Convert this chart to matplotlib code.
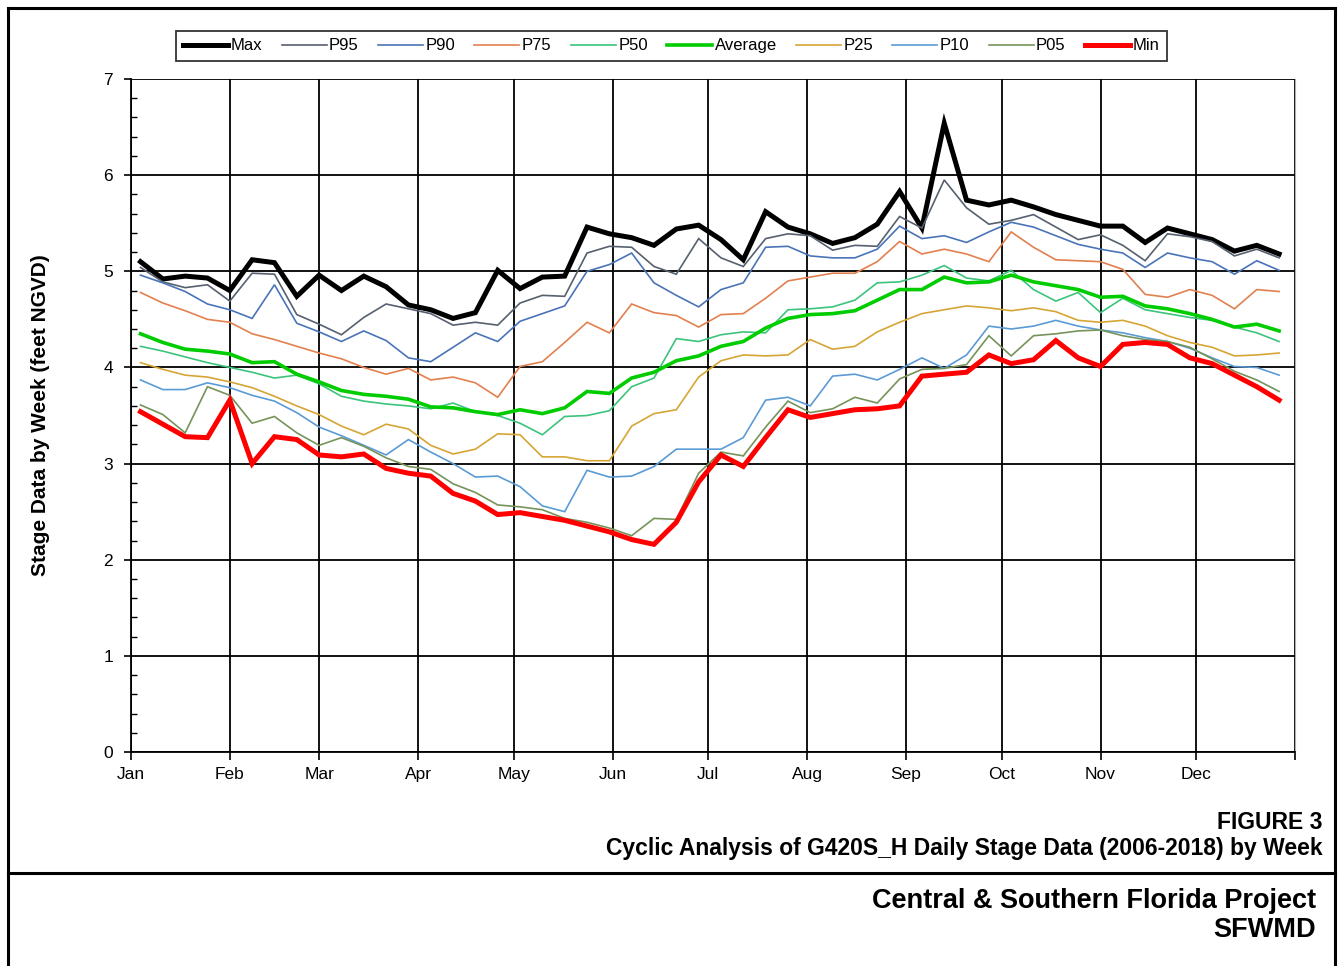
import numpy as np
import matplotlib
matplotlib.use('Agg')
import matplotlib.pyplot as plt
from matplotlib.lines import Line2D

plt.rcParams['font.family'] = ['Liberation Sans', 'DejaVu Sans']

# week number 1..52, plotted at day of year of the week middle
weeks = np.arange(1, 53)
month_starts = [0, 31, 59, 90, 120, 151, 181, 212, 243, 273, 304, 334, 365]
month_labels = ['Jan', 'Feb', 'Mar', 'Apr', 'May', 'Jun', 'Jul', 'Aug', 'Sep', 'Oct', 'Nov', 'Dec', '']

s_max = [5.10, 4.92, 4.95, 4.93, 4.80, 5.12, 5.09, 4.74, 4.96, 4.80, 4.95, 4.84, 4.65,
         4.60, 4.51, 4.57, 5.01, 4.82, 4.94, 4.95, 5.46, 5.39, 5.35, 5.27, 5.44, 5.48,
         5.33, 5.12, 5.62, 5.46, 5.39, 5.29, 5.35, 5.49, 5.83, 5.45, 6.54, 5.74, 5.69,
         5.74, 5.67, 5.59, 5.53, 5.47, 5.47, 5.30, 5.45, 5.39, 5.33, 5.21, 5.27, 5.18]
p95 = [5.04, 4.89, 4.83, 4.86, 4.69, 4.98, 4.97, 4.55, 4.45, 4.34, 4.52, 4.66, 4.61,
       4.56, 4.44, 4.47, 4.44, 4.67, 4.75, 4.74, 5.19, 5.26, 5.25, 5.05, 4.97, 5.34,
       5.14, 5.05, 5.34, 5.39, 5.37, 5.22, 5.27, 5.26, 5.57, 5.45, 5.95, 5.66, 5.49,
       5.53, 5.59, 5.46, 5.33, 5.38, 5.27, 5.11, 5.39, 5.36, 5.31, 5.16, 5.23, 5.14]
p90 = [4.96, 4.88, 4.79, 4.66, 4.60, 4.51, 4.86, 4.46, 4.37, 4.27, 4.38, 4.28, 4.10,
       4.06, 4.21, 4.36, 4.27, 4.48, 4.56, 4.64, 5.00, 5.07, 5.19, 4.88, 4.75, 4.63,
       4.81, 4.88, 5.25, 5.26, 5.16, 5.14, 5.14, 5.23, 5.47, 5.34, 5.37, 5.30, 5.41,
       5.51, 5.46, 5.37, 5.28, 5.23, 5.19, 5.04, 5.19, 5.14, 5.10, 4.97, 5.11, 5.01]
p75 = [4.78, 4.67, 4.59, 4.50, 4.47, 4.35, 4.29, 4.22, 4.15, 4.09, 4.00, 3.93, 3.99,
       3.87, 3.90, 3.84, 3.69, 4.01, 4.06, 4.26, 4.47, 4.36, 4.66, 4.57, 4.54, 4.42,
       4.55, 4.56, 4.72, 4.90, 4.94, 4.98, 4.98, 5.10, 5.31, 5.18, 5.23, 5.18, 5.10,
       5.41, 5.25, 5.12, 5.11, 5.10, 5.02, 4.76, 4.73, 4.81, 4.75, 4.61, 4.81, 4.79]
p50 = [4.22, 4.17, 4.11, 4.05, 4.00, 3.95, 3.89, 3.92, 3.83, 3.70, 3.65, 3.62, 3.60,
       3.57, 3.63, 3.54, 3.50, 3.42, 3.30, 3.49, 3.50, 3.55, 3.80, 3.89, 4.30, 4.27,
       4.34, 4.37, 4.36, 4.60, 4.61, 4.63, 4.70, 4.88, 4.89, 4.96, 5.06, 4.93, 4.90,
       5.01, 4.81, 4.69, 4.78, 4.57, 4.72, 4.60, 4.56, 4.52, 4.49, 4.42, 4.36, 4.27]
average = [4.35, 4.26, 4.19, 4.17, 4.14, 4.05, 4.06, 3.93, 3.85, 3.76, 3.72, 3.70, 3.67,
           3.59, 3.58, 3.54, 3.51, 3.56, 3.52, 3.58, 3.75, 3.73, 3.89, 3.95, 4.07, 4.12,
           4.22, 4.27, 4.41, 4.51, 4.55, 4.56, 4.59, 4.70, 4.81, 4.81, 4.94, 4.88, 4.89,
           4.96, 4.89, 4.85, 4.81, 4.73, 4.74, 4.64, 4.61, 4.56, 4.50, 4.42, 4.45, 4.38]
p25 = [4.05, 3.98, 3.92, 3.90, 3.85, 3.79, 3.70, 3.60, 3.51, 3.39, 3.30, 3.41, 3.36,
       3.19, 3.10, 3.15, 3.31, 3.30, 3.07, 3.07, 3.03, 3.03, 3.39, 3.52, 3.56, 3.90,
       4.07, 4.13, 4.12, 4.13, 4.29, 4.19, 4.22, 4.37, 4.47, 4.56, 4.60, 4.64, 4.62,
       4.59, 4.62, 4.58, 4.49, 4.47, 4.49, 4.43, 4.33, 4.26, 4.21, 4.12, 4.13, 4.15]
p10 = [3.87, 3.77, 3.77, 3.84, 3.79, 3.71, 3.65, 3.53, 3.38, 3.29, 3.19, 3.09, 3.25,
       3.12, 3.00, 2.86, 2.87, 2.76, 2.56, 2.50, 2.93, 2.86, 2.87, 2.97, 3.15, 3.15,
       3.15, 3.27, 3.66, 3.69, 3.60, 3.91, 3.93, 3.87, 3.98, 4.10, 3.99, 4.13, 4.43,
       4.40, 4.43, 4.49, 4.43, 4.39, 4.36, 4.31, 4.27, 4.20, 4.10, 4.01, 4.00, 3.92]
p05 = [3.61, 3.51, 3.32, 3.80, 3.71, 3.42, 3.49, 3.32, 3.19, 3.27, 3.18, 3.06, 2.97,
       2.94, 2.79, 2.70, 2.57, 2.55, 2.52, 2.43, 2.39, 2.33, 2.25, 2.43, 2.42, 2.90,
       3.12, 3.08, 3.38, 3.65, 3.53, 3.57, 3.69, 3.63, 3.88, 3.98, 3.99, 4.03, 4.33,
       4.12, 4.33, 4.35, 4.38, 4.39, 4.33, 4.29, 4.27, 4.21, 4.09, 3.96, 3.87, 3.75]
s_min = [3.54, 3.41, 3.28, 3.27, 3.66, 3.00, 3.28, 3.25, 3.09, 3.07, 3.10, 2.95, 2.90,
         2.87, 2.69, 2.61, 2.47, 2.49, 2.45, 2.41, 2.35, 2.29, 2.21, 2.16, 2.39, 2.81,
         3.09, 2.97, 3.27, 3.56, 3.48, 3.52, 3.56, 3.57, 3.60, 3.91, 3.93, 3.95, 4.13,
         4.04, 4.08, 4.28, 4.10, 4.01, 4.24, 4.26, 4.24, 4.10, 4.04, 3.92, 3.80, 3.66]

series = [
    ('Max', s_max, 'black', 3.6),
    ('P95', p95, '#56606f', 1.2),
    ('P90', p90, '#4a74b8', 1.2),
    ('P75', p75, '#e2804f', 1.2),
    ('P50', p50, '#3cc47c', 1.2),
    ('Average', average, '#00cc00', 2.6),
    ('P25', p25, '#d6a535', 1.2),
    ('P10', p10, '#5b9bd5', 1.2),
    ('P05', p05, '#76935a', 1.2),
    ('Min', s_min, '#ff0000', 3.6),
]

x = (weeks - 1) * 7 + 3

fig = plt.figure(figsize=(13.43, 9.66), dpi=100)
ax = fig.add_axes([0.0975, 0.2215, 0.8668, 0.6967])

for name, vals, col, lw in series:
    ax.plot(x, vals, color=col, lw=lw, label=name, solid_joinstyle='miter')

ax.set_xlim(0, 365)
ax.set_ylim(0, 7)
ax.set_xticks(month_starts)
ax.set_xticklabels(month_labels)
ax.set_yticks(range(8))
ax.set_yticks(np.arange(0, 7.01, 0.2), minor=True)
ax.grid(True, which='major', color='black', lw=1.3)
ax.tick_params(axis='both', which='major', labelsize=12.5, length=6, width=1.2)
ax.tick_params(axis='y', which='major', direction='out', length=5, pad=8)
ax.tick_params(axis='y', which='minor', direction='in', length=4, width=1)
ax.tick_params(axis='x', which='major', pad=5)
for sp in ['left', 'bottom']:
    ax.spines[sp].set_linewidth(1.3)
ax.spines['top'].set_visible(False)
ax.spines['right'].set_color('#b0b0b0')
ax.set_ylabel('Stage Data by Week (feet NGVD)', fontsize=15, fontweight='bold', labelpad=38)

leg = fig.legend(loc='center', bbox_to_anchor=(0.4998, 0.9524), ncol=10, fontsize=12,
                 frameon=True, fancybox=False, edgecolor='black', handlelength=2.7,
                 handletextpad=0.15, columnspacing=1.15, borderpad=0.45)
leg.get_frame().set_linewidth(1.3)

fig.text(0.9845, 0.149, 'FIGURE 3', ha='right', va='center', fontsize=16.5, fontweight='bold')
fig.text(0.9845, 0.122, 'Cyclic Analysis of G420S_H Daily Stage Data (2006-2018) by Week',
         ha='right', va='center', fontsize=16.5, fontweight='bold')
fig.text(0.980, 0.067, 'Central & Southern Florida Project', ha='right', va='center',
         fontsize=19.5, fontweight='bold')
fig.text(0.980, 0.037, 'SFWMD', ha='right', va='center', fontsize=19.5, fontweight='bold')

# frame around the drawing and the title block line
for xs, ys in [([0.006, 0.994], [0.992, 0.992]), ([0.006, 0.006], [0.0, 0.992]),
               ([0.994, 0.994], [0.0, 0.992]), ([0.006, 0.994], [0.0965, 0.0965])]:
    fig.add_artist(Line2D(xs, ys, color='black', lw=2.2, transform=fig.transFigure))

fig.savefig('out.png', dpi=100)
